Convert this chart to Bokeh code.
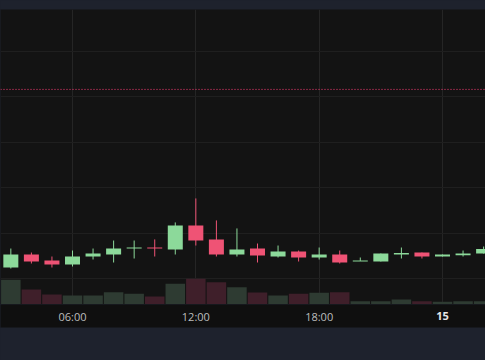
from datetime import datetime
import pandas as pd
from bokeh.plotting import figure
from bokeh.layouts import column
from bokeh.models import Range1d, FixedTicker, Span, ColumnDataSource
from bokeh.core.properties import value
from bokeh.embed import file_html
from bokeh.resources import INLINE

# ---------------- data ----------------
times = ["2024-03-14 03:00", "2024-03-14 04:00", "2024-03-14 05:00", "2024-03-14 06:00",
         "2024-03-14 07:00", "2024-03-14 08:00", "2024-03-14 09:00", "2024-03-14 10:00",
         "2024-03-14 11:00", "2024-03-14 12:00", "2024-03-14 13:00", "2024-03-14 14:00",
         "2024-03-14 15:00", "2024-03-14 16:00", "2024-03-14 17:00", "2024-03-14 18:00",
         "2024-03-14 19:00", "2024-03-14 20:00", "2024-03-14 21:00", "2024-03-14 22:00",
         "2024-03-14 23:00", "2024-03-15 00:00", "2024-03-15 01:00", "2024-03-15 02:00"]
opens  = [101.21, 102.64, 101.98, 101.54, 102.42, 102.64, 103.41, 103.41, 103.19, 105.84, 104.30, 102.64,
          103.30, 102.42, 102.97, 102.31, 102.64, 101.93, 101.87, 102.64, 102.86, 102.42, 102.57, 102.75]
highs  = [103.30, 102.86, 102.42, 103.08, 103.30, 104.18, 104.18, 104.30, 106.17, 108.81, 106.39, 105.51,
          103.85, 103.63, 103.08, 103.41, 103.08, 102.31, 102.75, 103.41, 102.86, 102.64, 103.08, 103.52]
lows   = [101.10, 101.65, 101.21, 101.32, 102.09, 101.76, 102.20, 102.42, 102.64, 103.63, 102.42, 102.42,
          101.76, 102.31, 101.87, 102.09, 101.65, 101.93, 101.87, 102.20, 102.20, 102.42, 102.42, 102.75]
closes = [102.64, 101.87, 101.54, 102.42, 102.75, 103.30, 103.41, 103.38, 105.84, 104.18, 102.64, 103.19,
          102.53, 102.97, 102.31, 102.64, 101.76, 101.98, 102.75, 102.81, 102.42, 102.64, 102.75, 103.25]
volumes = [2470, 1500, 1000, 900, 900, 1230, 1070, 800, 2070, 2570, 2230, 1730,
           1200, 900, 1070, 1170, 1230, 330, 330, 500, 330, 270, 330, 330]

ref_price = 120.81
price_ticks = [100, 105, 110, 115, 120, 125]
time_ticks = ["2024-03-14 06:00", "2024-03-14 12:00", "2024-03-14 18:00"]
time_labels = ["06:00", "12:00", "18:00"]
day_ticks = ["2024-03-15 00:00"]
day_labels = ["15"]

# ---------------- styling ----------------
BG = "#131313"
NAVY = "#1e222d"
STRIP = "#0f0f0f"
UP = "#8cd99a"
DOWN = "#ef5375"
UP_VOL = "#2e3b32"
DOWN_VOL = "#3f1f2a"

t = pd.to_datetime(times)
hour_ms = 3600 * 1000
up = [c >= o for o, c in zip(opens, closes)]
colors = [UP if u else DOWN for u in up]
vcolors = [UP_VOL if u else DOWN_VOL for u in up]

y0, y1 = 97.14, 129.6
frame_h = 295
min_body = (y1 - y0) / frame_h  # one pixel
body_top = [max(o, c) for o, c in zip(opens, closes)]
body_bot = [min(o, c) for o, c in zip(opens, closes)]
body_bot = [b if (tp - b) >= min_body else tp - min_body for tp, b in zip(body_top, body_bot)]

src = ColumnDataSource(dict(t=t, o=opens, h=highs, l=lows, c=closes, v=volumes,
                            top=body_top, bot=body_bot, color=colors, vcolor=vcolors))

x_range = Range1d(start=datetime(2024, 3, 14, 2, 29, 50), end=datetime(2024, 3, 15, 2, 5, 30))

p = figure(width=485, height=304, x_axis_type="datetime", x_range=x_range,
           y_range=Range1d(y0, y1), x_axis_location=None, y_axis_location=None,
           toolbar_location=None, output_backend="svg",
           min_border_top=9, min_border_left=0, min_border_right=0, min_border_bottom=0,
           background_fill_color=BG, border_fill_color=NAVY, outline_line_color=None)
p.extra_y_ranges = {"vol": Range1d(0, 29500)}

p.xgrid.ticker = FixedTicker(ticks=[pd.Timestamp(x).value / 1e6 for x in time_ticks + day_ticks])
p.xgrid.grid_line_color = "#252525"
p.ygrid.ticker = FixedTicker(ticks=price_ticks)
p.ygrid.grid_line_color = "#1f1f1f"

p.vbar(x="t", width=0.95 * hour_ms, top="v", bottom=0, source=src, y_range_name="vol",
       fill_color="vcolor", line_color=None)
p.segment(x0="t", y0="l", x1="t", y1="h", source=src, line_color="color", line_width=1)
p.vbar(x="t", width=0.73 * hour_ms, top="top", bottom="bot", source=src,
       fill_color="color", line_color=None)

p.add_layout(Span(location=ref_price, dimension="width", line_color="#ff3f78",
                  line_dash="1 2", line_width=1))

# time-axis strip
a = figure(width=485, height=56, x_range=x_range, y_range=Range1d(0, 1),
           x_axis_location=None, y_axis_location=None, toolbar_location=None,
           output_backend="svg", min_border_top=0, min_border_left=0,
           min_border_right=0, min_border_bottom=33,
           background_fill_color=STRIP, border_fill_color=NAVY, outline_line_color=None)
a.grid.visible = False
a.text(x=pd.to_datetime(time_ticks), y=[0.5] * len(time_ticks), text=time_labels,
       text_font=value("Open Sans"), text_font_size="11px", text_color="#bdbdbd",
       text_align="center", text_baseline="middle")
a.text(x=pd.to_datetime(day_ticks), y=[0.5] * len(day_ticks), text=day_labels,
       text_font=value("Open Sans"), text_font_size="11px", text_font_style="bold",
       text_color="#e6e6e6", text_align="center", text_baseline="middle")

layout = column(p, a, spacing=0)
template = """
{% block preamble %}<style>html, body { background: #1e222d; }</style>{% endblock %}
"""
open("out.html", "w").write(file_html(layout, INLINE, template=template))
